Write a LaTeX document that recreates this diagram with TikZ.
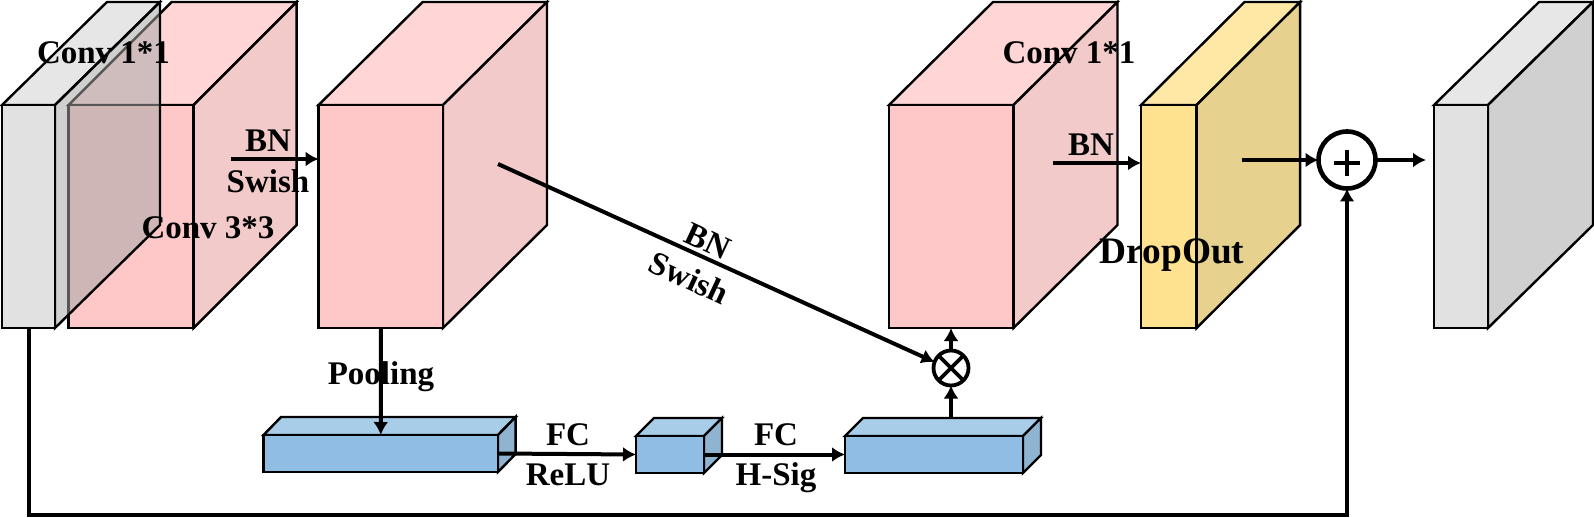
\documentclass[tikz,border=0pt]{standalone}
\usepackage{fontspec}
\setmainfont{Liberation Serif}
\usetikzlibrary{arrows.meta,fit}
\definecolor{pf}{HTML}{FFC8C8}\definecolor{pt}{HTML}{FFD5D5}\definecolor{ps}{HTML}{F3CACA}
\definecolor{gf}{HTML}{E1E1E1}\definecolor{gt}{HTML}{E7E7E7}\definecolor{gs}{HTML}{D0D0D0}
\definecolor{got}{HTML}{D0D0D0}\definecolor{gos}{HTML}{A6A6A6}
\definecolor{yf}{HTML}{FFE28F}\definecolor{yt}{HTML}{FFE8A6}\definecolor{ys}{HTML}{E6D28E}
\definecolor{bf}{HTML}{8FBDE3}\definecolor{bt}{HTML}{A8CDE9}\definecolor{bs}{HTML}{8FB4D2}
\tikzset{
  edge3d/.style={draw=black,line width=2.4pt,line join=miter},
  flow/.style={draw=black,line width=4pt,-{Latex[length=13pt,width=15pt]}},
  lab/.style={font=\fontsize{33}{33}\selectfont\bfseries,inner sep=0pt},
  biglab/.style={font=\fontsize{37.4}{37.4}\selectfont\bfseries,inner sep=0pt},
  opnode/.style={circle,draw=black,fill=white,inner sep=0pt,outer sep=0pt},
  opline/.style={draw=black,line width=3.6pt},
  cubeopt/.style={}
}
% \cube[opts]{name}{x1}{x2}{ytop}{ybot}{dx}{dy}{front}{top}{side}
\newcommand{\cube}[9][]{\cubeB{#1}{#2}{#3}{#4}{#5}{#6}{#7}{#8}{#9}}
\newcommand{\cubeB}[9]{%
  \coordinate (#2nw) at (#3,#5);
  \coordinate (#2se) at (#4,#6);
  \tikzset{cubeopt/.style={#1}}%
  \def\cubename{#2}%
  \def\cubeXa{#3}\def\cubeXb{#4}\def\cubeYa{#5}\def\cubeYb{#6}\def\cubeDx{#7}\def\cubeDy{#8}%
  \def\cubeF{#9}\cubeC}
\newcommand{\cubeC}[2]{%
  \path[edge3d,fill=#1,cubeopt] (\cubeXa,\cubeYa) -- ++(\cubeDx,-\cubeDy) -- ++(\cubeXb-\cubeXa,0) -- (\cubeXb,\cubeYa) -- cycle;
  \path[edge3d,fill=#2,cubeopt] (\cubeXb,\cubeYa) -- ++(\cubeDx,-\cubeDy) -- (\cubeXb+\cubeDx,\cubeYb-\cubeDy) -- (\cubeXb,\cubeYb) -- cycle;
  \node[fit=(\cubename nw)(\cubename se),inner sep=0pt,outer sep=0pt,edge3d,fill=\cubeF] (\cubename) {};
  \coordinate (\cubename top) at (\cubeXa/2+\cubeXb/2+\cubeDx/2,\cubeYa-\cubeDy/2);
}
\begin{document}
\begin{tikzpicture}[x=1pt,y=-1pt]
\useasboundingbox (0,0) rectangle (1594,518);
% cubes
\cube{conva}{68.6}{193.6}{105}{328}{103}{103}{pf}{pt}{ps}
\cube[fill opacity=.53]{inp}{2}{55}{105}{328}{105}{103}{gf}{got}{gos}
\cube{convb}{318.6}{443}{105}{328}{104}{103}{pf}{pt}{ps}
\cube{convc}{889}{1013.5}{105}{328}{104}{103}{pf}{pt}{ps}
\cube{drop}{1141}{1196.6}{105}{328}{103.5}{103}{yf}{yt}{ys}
\cube{outp}{1434}{1488}{105}{328}{105}{103}{gf}{gt}{gs}
\cube{boxa}{263.5}{498}{435}{472}{17.6}{18}{bf}{bt}{bs}
\cube{boxb}{636}{704}{436}{473}{18}{18}{bf}{bt}{bs}
\cube{boxc}{845}{1023}{436}{473}{18}{18}{bf}{bt}{bs}
% operators
\node[opnode,line width=4.6pt,minimum size=57pt] (plus) at (1347,160) {};
\node[opnode,line width=3.8pt,minimum size=35pt] (times) at (951,368) {};
\draw[opline,line width=4.6pt] ([shift={(-13,3)}]plus.center) -- ([shift={(13,3)}]plus.center);
\draw[opline,line width=4.6pt] ([shift={(0,-10)}]plus.center) -- ([shift={(0,16)}]plus.center);
\draw[opline] (times.45) -- (times.225);
\draw[opline] (times.135) -- (times.315);
% free ends
\coordinate (s1) at (231,159);
\coordinate (s2) at (498,164);
\coordinate (s3) at (1053,163);
\coordinate (s4) at (1241.5,160);
\coordinate (corner1) at (inp.south |- 0,515);
\coordinate (corner2) at (plus.south |- 0,515);
\coordinate (e5) at (1426,160);
% connectors
\draw[flow] (s1) -- (s1 -| convb.west);
\draw[flow] (s2) -- (times.160);
\draw[flow] (s3) -- (s3 -| drop.west);
\draw[flow] (s4) -- (plus.west);
\draw[flow] (plus.east) -- (e5);
\draw[flow] (inp.south) -- (corner1) -- (corner2) -- (plus.south);
\draw[flow] (convb.south) -- (boxa.north);
\draw[flow] (boxa.east) -- (boxb.west);
\draw[flow] (boxb.east) -- (boxc.west);
\draw[flow] (times.south |- boxc.north) ++(0,-18) -- (times.south);
\draw[flow] (times.north) -- (times.north |- convc.south);
% labels
\node[lab] (t1) at (103.5,53) {Conv 1*1};
\node[lab] (t2) at (208,228) {Conv 3*3};
\node[lab] (t3) at (268,141) {BN};
\node[lab] (t4) at (268,181) {Swish};
\node[lab] (t5) at (381,377) {Pooling};
\node[lab,rotate=-25] (t6) at (708,241) {BN};
\node[lab,rotate=-25] (t7) at (689,278) {Swish};
\node[lab] (t8) at (1069,53) {Conv 1*1};
\node[lab] (t9) at (1091,145) {BN};
\node[biglab] (t10) at (1172,255) {DropOut};
\node[lab] (t11) at (568,435) {FC};
\node[lab] (t12) at (568,475) {ReLU};
\node[lab] (t13) at (776,435) {FC};
\node[lab] (t14) at (776,478) {H-Sig};
\end{tikzpicture}
\end{document}
